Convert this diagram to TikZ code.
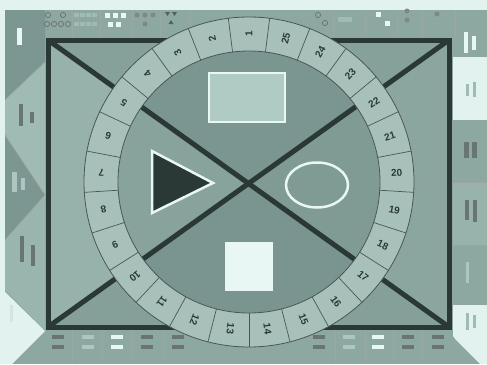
\documentclass[tikz,border=0pt]{standalone}
\usepackage{fontspec}
\setmainfont{Liberation Sans}
\usetikzlibrary{calc}
\definecolor{paper}{HTML}{E2F3EF}
\definecolor{board}{HTML}{8DA7A1}
\definecolor{boardlt}{HTML}{A0BAB4}
\definecolor{boarddk}{HTML}{7C9691}
\definecolor{ringc}{HTML}{A7C1BA}
\definecolor{ink}{HTML}{2A3836}
\definecolor{rectc}{HTML}{B0CAC4}
\definecolor{whitec}{HTML}{E8F7F3}
\definecolor{trT}{HTML}{86A09A}
\definecolor{trL}{HTML}{97B1AB}
\definecolor{trB}{HTML}{859F99}
\definecolor{trR}{HTML}{8BA59F}
\definecolor{dkT}{HTML}{7B9590}
\definecolor{dkL}{HTML}{88A29C}
\definecolor{dkB}{HTML}{7A948F}
\definecolor{dkR}{HTML}{809A94}
\tikzset{
  numlabel/.style={font=\bfseries\fontsize{10}{10}\selectfont, text=ink, inner sep=0pt},
  divider/.style={draw=ink!85, line width=0.7pt},
  thinsep/.style={draw=ink!45, line width=0.6pt},
  darkbar/.style={fill=ink!70},
  lightbar/.style={fill=whitec},
  palebar/.style={fill=boardlt!80!whitec},
  thick line/.style={draw=ink, line width=5pt},
}
\begin{document}
\begin{tikzpicture}[x=1pt,y=-1pt]
\useasboundingbox (0,0) rectangle (487,364);
\fill[paper] (0,0) rectangle (487,364);
\fill[board] (5,10) rectangle (487,364);

% ---------- left column ----------
\fill[boarddk] (5,10) -- (45,10) -- (45,62) -- (5,100) -- cycle;
\fill[boardlt] (5,100) -- (45,62) -- (45,195) -- (5,135) -- cycle;
\fill[boarddk] (5,135) -- (45,195) -- (5,240) -- cycle;
\fill[boardlt!70!board] (5,240) -- (45,195) -- (45,330) -- (5,290) -- cycle;
\fill[paper] (0,287) -- (45,331) -- (12,364) -- (0,364) -- cycle;
\draw[thinsep] (45,62) -- (5,100) (5,135) -- (45,195) -- (5,240);
\fill[lightbar] (17,28) rectangle (22,45);
\fill[darkbar] (19,104) rectangle (23,126);
\fill[darkbar] (30,112) rectangle (34,123);
\fill[palebar] (12,172) rectangle (17,192);
\fill[palebar] (21,178) rectangle (25,190);
\fill[darkbar] (20,236) rectangle (24,262);
\fill[darkbar] (31,245) rectangle (35,266);
\fill[whitec!70!boardlt] (10,305) rectangle (13,322);

% ---------- right column ----------
\fill[paper] (453,57) rectangle (487,120);
\fill[boardlt!60!board] (453,182) rectangle (487,245);
\fill[paper] (453,305) -- (487,305) -- (487,364) -- (480,364) -- (456,340) -- (453,336) -- cycle;
\draw[thinsep] (453,182) -- (487,182) (453,245) -- (487,245);
\fill[lightbar] (464,32) rectangle (468,53);
\fill[lightbar] (472,36) rectangle (476,50);
\fill[boardlt] (466,84) rectangle (469,96);
\fill[boardlt] (473,82) rectangle (476,97);
\fill[darkbar] (464,142) rectangle (469,158);
\fill[darkbar] (472,142) rectangle (477,158);
\fill[darkbar] (465,200) rectangle (469,220);
\fill[darkbar] (473,200) rectangle (477,222);
\fill[palebar] (466,262) rectangle (469,283);
\fill[boardlt] (466,313) rectangle (469,330);
\fill[boardlt] (473,315) rectangle (476,328);

% ---------- top strip ----------
\foreach \x in {72,100,132,160,190,333,365,397,422,455}
  \draw[thinsep] (\x,10) -- (\x,37);
\foreach \x/\y in {48/15,63/15,47/24,54/24,61/24,68/24,318/15,325/23}
  \draw[ink!70, line width=0.7pt] (\x,\y) circle[radius=2.6pt];
\foreach \x in {74,80,86,92}{
  \fill[boardlt] (\x,13) rectangle ++(5,4);
  \fill[boardlt] (\x,22) rectangle ++(5,4);}
\fill[boardlt] (338,17) rectangle (352,22);
\foreach \x/\y in {105/13,113/13,121/13,108/22,116/22,376/12,385/21}
  \fill[whitec] (\x,\y) rectangle ++(4.5,4.5);
\foreach \x/\y in {137/15,145/15,153/15,145/24,407/11,407/20,437/14}
  \fill[ink!60] (\x,\y) circle[radius=2.5pt];
\fill[ink!80] (165,12) -- (170,12) -- (167.5,16) -- cycle;
\fill[ink!80] (172,12) -- (177,12) -- (174.5,16) -- cycle;
\fill[ink!80] (168.5,24) -- (173.5,24) -- (171,20) -- cycle;

% ---------- bottom strip ----------
\foreach \x in {72,102,132,163,335,365,393,422}
  \draw[thinsep] (\x,330) -- (\x,364);
\foreach \x/\s in {52/darkbar,82/palebar,111/lightbar,141/darkbar,172/darkbar,313/darkbar,343/palebar,372/lightbar,402/darkbar,432/darkbar}{
  \fill[\s] (\x,335) rectangle ++(12,3.5);
  \fill[\s] (\x,345) rectangle ++(12,3.5);}

% ---------- square quadrants ----------
\coordinate (TL) at (48,40);
\coordinate (TR) at (449,40);
\coordinate (BL) at (48,327);
\coordinate (BR) at (449,327);
\coordinate (O) at (248.5,183.5);
\coordinate (C) at (249,182);
\fill[trT] (TL) -- (TR) -- (O) -- cycle;
\fill[trR] (TR) -- (BR) -- (O) -- cycle;
\fill[trB] (BR) -- (BL) -- (O) -- cycle;
\fill[trL] (BL) -- (TL) -- (O) -- cycle;
\begin{scope}
  \clip (C) circle[radius=131pt];
  \fill[dkT] (TL) -- (TR) -- (O) -- cycle;
  \fill[dkR] (TR) -- (BR) -- (O) -- cycle;
  \fill[dkB] (BR) -- (BL) -- (O) -- cycle;
  \fill[dkL] (BL) -- (TL) -- (O) -- cycle;
\end{scope}
\draw[thick line] (TL) -- (BR);
\draw[thick line] (BL) -- (TR);
\draw[thick line] (TL) -- (TR) -- (BR) -- (BL) -- cycle;

% ---------- ring ----------
\fill[ringc, even odd rule] (C) circle[radius=165pt] (C) circle[radius=131pt];
\draw[ink!85, line width=0.8pt] (C) circle[radius=165pt];
\draw[ink!85, line width=0.8pt] (C) circle[radius=131pt];
\foreach \j in {0,...,24}{
  \pgfmathsetmacro\ang{97.2+\j*14.4}
  \draw[divider] ([shift={(249,182)}] -\ang:131) -- ([shift={(249,182)}] -\ang:165);
}
\foreach \k in {1,...,25}{
  \pgfmathsetmacro\ang{90+(\k-1)*14.4}
  \node[numlabel, rotate=\ang] (n\k) at ([shift={(249,182)}] -\ang:148) {\k};
}

% ---------- inner shapes ----------
\filldraw[fill=rectc, draw=whitec, line width=2pt] (209,73) rectangle (285,122);
\filldraw[fill=ink, draw=whitec, line width=2.5pt, line join=miter] (152,151) -- (152,213) -- (213,183) -- cycle;
\draw[whitec, line width=2.5pt] (317,185) ellipse[x radius=31pt, y radius=22.5pt];
\fill[whitec] (225,242) rectangle (273,291);
\end{tikzpicture}
\end{document}
